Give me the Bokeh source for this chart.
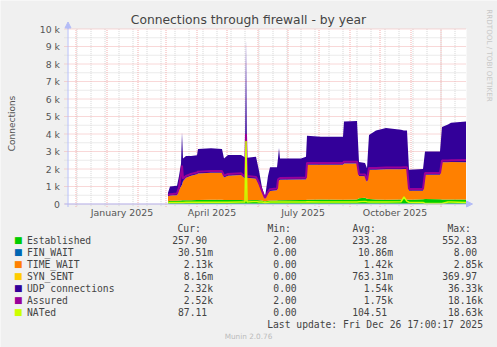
import pandas as pd
from math import pi
from bokeh.plotting import figure
from bokeh.models import ColumnDataSource, Range1d, Label, Arrow, NormalHead, BoxAnnotation
from bokeh.core.properties import value
from bokeh.embed import file_html
from bokeh.resources import INLINE

# ---------------- data (daily averages) ----------------
dates = ["2025-03-03", "2025-03-05", "2025-03-12", "2025-03-14", "2025-03-16", "2025-03-17",
         "2025-03-18", "2025-03-21", "2025-03-26", "2025-04-01", "2025-04-02", "2025-04-15",
         "2025-04-26", "2025-04-28", "2025-05-02", "2025-05-15", "2025-05-18", "2025-05-19",
         "2025-05-20", "2025-05-21", "2025-05-30", "2025-06-02", "2025-06-05", "2025-06-08",
         "2025-06-11", "2025-06-13", "2025-06-20", "2025-06-21", "2025-06-22", "2025-06-23",
         "2025-07-14", "2025-07-19", "2025-07-20", "2025-08-03", "2025-08-25", "2025-08-26",
         "2025-09-08", "2025-09-10", "2025-09-16", "2025-09-18", "2025-09-20", "2025-09-27",
         "2025-10-07", "2025-10-22", "2025-10-25", "2025-10-28", "2025-10-30", "2025-11-13",
         "2025-11-15", "2025-11-30", "2025-12-02", "2025-12-08", "2025-12-11", "2025-12-26"]
established = [150, 180, 190, 200, 200, 210, 210, 220, 220, 230,
               230, 240, 240, 230, 230, 230, 220, 220, 200, 220,
               230, 220, 200, 150, 180, 200, 200, 210, 210, 220,
               230, 230, 250, 260, 250, 250, 260, 330, 360, 300,
               280, 260, 250, 260, 280, 260, 250, 270, 280, 270,
               260, 260, 260, 258]
fin_wait = [0] * 54
time_wait = [300, 300, 310, 600, 800, 890, 1090, 1280, 1400, 1470,
             1520, 1540, 1540, 1290, 1390, 1430, 1280, 1280, 1100, 1280,
             1220, 880, 460, 150, 420, 550, 580, 1100, 1140, 1160,
             1170, 1170, 2000, 1990, 2000, 2070, 2060, 1270, 1220, 950,
             1680, 1700, 1730, 1720, 1720, 1740, 510, 490, 1390, 1400,
             2120, 2130, 2140, 2130]
syn_sent = [0] * 18 + [300] + [0] * 35
udp = [200, 520, 550, 800, 1300, 3000, 1300, 1250, 1130, 1080,
       1400, 1400, 1370, 1080, 1180, 1140, 1200, 1150, 7900, 1150,
       1250, 800, 290, 80, 1000, 1350, 1320, 1300, 1850, 1220,
       1200, 1300, 1650, 1600, 1600, 2400, 2430, 800, 770, 800,
       1990, 2240, 2370, 2270, 2200, 2200, 1200, 1240, 1330, 1330,
       2020, 2160, 2250, 2320]
assured = [520, 560, 600, 950, 1700, 2200, 1450, 1600, 1720, 1800,
           1850, 1880, 1880, 1620, 1720, 1760, 1600, 1600, 4000, 1600,
           1550, 1200, 750, 350, 700, 850, 880, 1400, 1450, 1480,
           1500, 1500, 2350, 2350, 2350, 2420, 2420, 1700, 1680, 1350,
           2060, 2060, 2080, 2080, 2100, 2100, 860, 860, 1770, 1770,
           2480, 2490, 2500, 2520]
nated = [60, 80, 80, 90, 90, 90, 90, 100, 100, 100,
         100, 100, 100, 100, 100, 110, 110, 110, 3600, 120,
         150, 120, 110, 80, 100, 110, 110, 110, 110, 110,
         110, 120, 130, 120, 120, 120, 120, 130, 150, 130,
         120, 120, 120, 130, 400, 150, 100, 90, 30, 30,
         30, 110, 110, 87]

series_names = ["Established", "FIN_WAIT", "TIME_WAIT", "SYN_SENT",
                "UDP connections", "Assured", "NATed"]
series_colors = ["#00CC00", "#0066B3", "#FF8000", "#FFCC00", "#330099", "#990099", "#CCFF00"]
cur_vals = ["257.90", "30.51m", "2.13k", "8.16m", "2.32k", "2.52k", "87.11"]
min_vals = ["2.00", "0.00", "0.00", "0.00", "0.00", "2.00", "0.00"]
avg_vals = ["233.28", "10.86m", "1.42k", "763.31m", "1.54k", "1.75k", "104.51"]
max_vals = ["552.83", "8.00", "2.85k", "369.97", "36.33k", "18.16k", "18.63k"]
col_headers = ["Cur:", "Min:", "Avg:", "Max:"]

y_ticks = [0, 1000, 2000, 3000, 4000, 5000, 6000, 7000, 8000, 9000, 10000]
y_tick_labels = ["0", "1 k", "2 k", "3 k", "4 k", "5 k", "6 k", "7 k", "8 k", "9 k", "10 k"]
x_label_dates = ["2025-01-16", "2025-04-16", "2025-07-16", "2025-10-16"]
x_tick_labels = ["January 2025", "April 2025", "July 2025", "October 2025"]

title_text = "Connections through firewall - by year"
y_title = "Connections"
last_update = "Last update: Fri Dec 26 17:00:17 2025"
footer = "Munin 2.0.76"
side_text = "RRDTOOL / TOBI OETIKER"

# ---------------- layout ----------------
W, H = 497, 347
Y_MAX = 10000
PX2Y = Y_MAX / 175.0          # value units per pixel
Y0_CANVAS = 203.5             # canvas row of value 0
DAY = pd.Timedelta(days=1)
X_START = pd.Timestamp("2024-12-01") - 75.5 * DAY    # canvas column 0
AREA_L = X_START + 67 * DAY
AREA_R = X_START + 466 * DAY
YAXIS_X = X_START + 67.5 * DAY

AXIS_C = "#B4BCF6"
MAJOR_C = "#F3B0B0"
MINOR_C = "#D6D6D6"
TXT_C = "#444444"


def ms(d):
    return pd.Timestamp(d).value // 10**6


month_dates = pd.date_range("2024-12-01", "2025-12-01", freq="MS")
biweek_dates = pd.date_range("2024-12-02", "2025-12-26", freq="14D")
y_minor = [v + 500 for v in y_ticks[:-1]]

p = figure(width=W, height=H, output_backend="svg", toolbar_location=None, title=None,
           x_axis_type="datetime", x_axis_location=None, y_axis_location=None,
           x_range=Range1d(X_START, X_START + W * DAY),
           y_range=Range1d(-(H - Y0_CANVAS) * PX2Y, Y0_CANVAS * PX2Y),
           min_border=0, background_fill_color="#F0F0F0", border_fill_color="#F0F0F0",
           outline_line_color=None)
p.grid.visible = False

# white plot area
p.add_layout(BoxAnnotation(left=ms(AREA_L), right=ms(AREA_R), bottom=0, top=Y_MAX,
                           fill_color="white", fill_alpha=1, line_color=None,
                           level="underlay"))

# grid (with small ticks outside the area)
tick_len = 3 * PX2Y
p.segment(x0=list(biweek_dates), y0=[-tick_len * 0.7] * len(biweek_dates),
          x1=list(biweek_dates), y1=[Y_MAX] * len(biweek_dates),
          line_color=MINOR_C, line_dash="1 1", line_width=1)
p.segment(x0=[AREA_L - 3 * DAY] * len(y_minor), y0=y_minor,
          x1=[AREA_R] * len(y_minor), y1=y_minor,
          line_color=MINOR_C, line_dash="1 1", line_width=1)
p.segment(x0=list(month_dates), y0=[-tick_len] * len(month_dates),
          x1=list(month_dates), y1=[Y_MAX] * len(month_dates),
          line_color=MAJOR_C, line_dash="1 1", line_width=1)
p.segment(x0=[AREA_L - 3 * DAY] * len(y_ticks), y0=y_ticks,
          x1=[AREA_R] * len(y_ticks), y1=y_ticks,
          line_color=MAJOR_C, line_dash="1 1", line_width=1)

# data
src = ColumnDataSource(dict(date=pd.to_datetime(dates), est=established, fin=fin_wait,
                            tw=time_wait, syn=syn_sent, udp=udp,
                            assured=assured, nated=nated))
p.varea_stack(stackers=["est", "fin", "tw", "syn", "udp"], x="date",
              color=series_colors[:5], source=src)
p.line("date", "assured", source=src, line_color=series_colors[5], line_width=2)
p.line("date", "nated", source=src, line_color=series_colors[6], line_width=1.5)

# axes lines and arrows
p.segment(x0=[AREA_L - 3 * DAY], y0=[0], x1=[AREA_R + 2 * DAY], y1=[0],
          line_color=AXIS_C, line_width=1)
p.segment(x0=[YAXIS_X], y0=[-tick_len], x1=[YAXIS_X], y1=[Y_MAX + 2 * PX2Y],
          line_color=AXIS_C, line_width=1)
p.add_layout(Arrow(end=NormalHead(size=6, fill_color=AXIS_C, line_color=AXIS_C),
                   x_start=ms(YAXIS_X), y_start=Y_MAX, x_end=ms(YAXIS_X),
                   y_end=Y_MAX + 7 * PX2Y, line_color=AXIS_C))
p.add_layout(Arrow(end=NormalHead(size=6, fill_color=AXIS_C, line_color=AXIS_C),
                   x_start=ms(AREA_R), y_start=0, x_end=ms(AREA_R + 6 * DAY),
                   y_end=0, line_color=AXIS_C))

# tick labels
p.text(x=[YAXIS_X] * len(y_ticks), y=y_ticks, text=y_tick_labels, x_offset=-8,
       text_align="right", text_baseline="middle", text_font=value("DejaVu Sans"),
       text_font_size="9.3px", text_color="#555555")
p.text(x=pd.to_datetime(x_label_dates), y=[-8.5 * PX2Y] * len(x_label_dates),
       text=x_tick_labels, text_align="center", text_baseline="middle",
       text_font=value("DejaVu Sans"), text_font_size="9.4px", text_color="#555555")


def put(text, cx, cy, size, color=TXT_C, font="DejaVu Sans", align="left",
        baseline="middle", angle=0.0):
    p.add_layout(Label(x=cx, y=H - cy, x_units="screen", y_units="screen",
                       text=text, text_font=font, text_font_size=f"{size}px",
                       text_color=color, text_align=align, text_baseline=baseline,
                       angle=angle))


put(title_text, 248, 19.5, 12.3, align="center")
put(y_title, 11, 123, 9, align="center", angle=pi / 2, color="#555555")
put(side_text, 488.5, 55, 7.2, color="#C8C8C8", align="center", angle=-pi / 2)

MONO = "DejaVu Sans Mono"
CH = 5.85
MS = 9.7
for hdr, hx in zip(col_headers, [177, 267, 352, 447]):
    put(hdr, hx, 228, MS, font=MONO)

col_right = [212.5, 302, 392.5, 482.5]
for i, name in enumerate(series_names):
    ry = 239.5 + 12 * i
    put("\u25A0", 13.5, ry, 9, color=series_colors[i], font="DejaVu Sans")
    put(name, 26.5, ry, MS, font=MONO)
    for vals, cr in zip([cur_vals, min_vals, avg_vals, max_vals], col_right):
        s = vals[i]
        anchor = cr - CH if s[-1].isdigit() else cr
        put(s, anchor, ry, MS, font=MONO, align="right")

put(last_update, 482.5, 324, MS, font=MONO, align="right")
put(footer, 248, 336, 7.3, color="#BBBBBB", align="center")

open("out.html", "w").write(file_html(p, INLINE))
